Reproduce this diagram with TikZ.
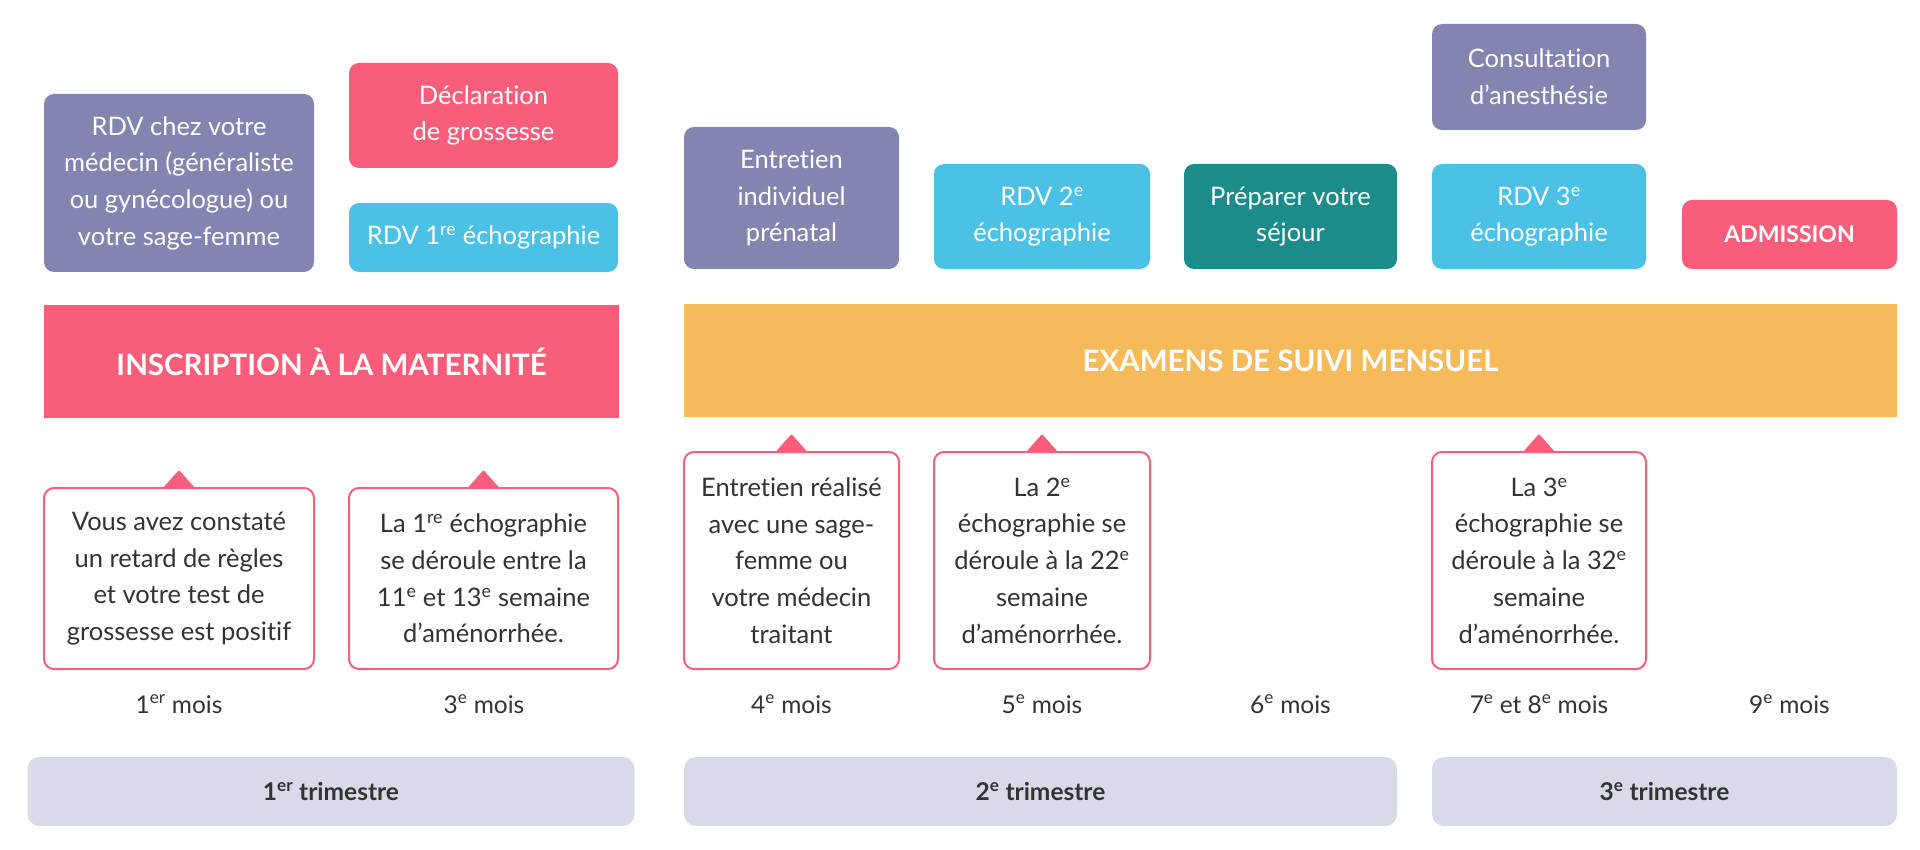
\documentclass[tikz,border=0pt]{standalone}
\usepackage{fontspec}
\setmainfont{Lato}[Ligatures=CommonOff]
\usetikzlibrary{calc}
\definecolor{purp}{HTML}{8484B0}
\definecolor{pinkc}{HTML}{F85E7A}
\definecolor{bluec}{HTML}{4CC1E6}
\definecolor{tealc}{HTML}{1B8C8A}
\definecolor{orangec}{HTML}{F6BA5A}
\definecolor{trig}{HTML}{DAD9E8}
\definecolor{darkt}{HTML}{333333}
\newcommand\bxfont{\fontsize{25.5}{36.7}\selectfont}
\newcommand\moisfnt{\fontsize{24.5}{30}\selectfont}
\newcommand\admfnt{\fontsize{23}{30}\selectfont\bfseries}
\newcommand\barfnt{\fontsize{29.5}{34}\selectfont\bfseries}
\newcommand\trifnt{\fontsize{24.5}{28}\selectfont\bfseries}
\tikzset{
  tbox/.style={rectangle, rounded corners=10pt, inner sep=0pt, align=center, text=white, font=\bxfont},
  callout/.style={rectangle, rounded corners=10pt, draw=pinkc, line width=2pt, fill=white, inner sep=0pt, align=center, text=darkt, font=\bxfont},
  bar/.style={rectangle, inner sep=0pt, text=white, font=\barfnt},
  mois/.style={inner sep=0pt, anchor=base, text=darkt, font=\moisfnt},
  tri/.style={rectangle, rounded corners=12pt, fill=trig, inner sep=0pt, text=darkt, font=\trifnt},
  pointer/.style={fill=pinkc, rounded corners=2pt}
}
\begin{document}
\begin{tikzpicture}[x=1pt,y=-1pt]
\useasboundingbox[fill=white] (0,0) rectangle (1920,850);
% top boxes
\node[tbox, fill=purp, minimum width=270pt, minimum height=178pt] (rdv) at (179,183) {RDV chez votre\\médecin (généraliste\\ou gynécologue) ou\\votre sage-femme};
\node[tbox, fill=pinkc, minimum width=269pt, minimum height=105pt] (decl) at (483.5,115.5) {Déclaration\\de grossesse};
\node[tbox, fill=bluec, minimum width=269pt, minimum height=69pt] (echoa) at (483.5,237.5) {RDV 1\textsuperscript{re} échographie};
\node[tbox, fill=purp, minimum width=215pt, minimum height=142pt] (entr) at (791.5,198) {Entretien\\individuel\\prénatal};
\node[tbox, fill=bluec, minimum width=216pt, minimum height=105pt] (echob) at (1042,216.5) {RDV 2\textsuperscript{e}\\échographie};
\node[tbox, fill=tealc, minimum width=213pt, minimum height=105pt] (prep) at (1290.5,216.5) {Préparer votre\\séjour};
\node[tbox, fill=purp, minimum width=214pt, minimum height=106pt] (cons) at (1539,77) {Consultation\\d’anesthésie};
\node[tbox, fill=bluec, minimum width=214pt, minimum height=105pt] (echoc) at (1539,216.5) {RDV 3\textsuperscript{e}\\échographie};
\node[tbox, fill=pinkc, minimum width=215pt, minimum height=69pt, font=\admfnt] (adm) at (1789.5,234.5) {ADMISSION};
% bars
\node[bar, fill=pinkc, minimum width=575pt, minimum height=113pt] (insc) at (331.5,361.5) {INSCRIPTION À LA MATERNITÉ};
\node[bar, fill=orangec, minimum width=1213pt, minimum height=113pt] (exam) at (1290.5,360.5) {EXAMENS DE SUIVI MENSUEL};
% callouts
\node[callout, minimum width=270pt, minimum height=181pt] (ca) at (179,578.5) {Vous avez constaté\\un retard de règles\\et votre test de\\grossesse est positif};
\node[callout, minimum width=269pt, minimum height=181pt] (cb) at (483.5,578.5) {La 1\textsuperscript{re} échographie\\se déroule entre la\\11\textsuperscript{e} et 13\textsuperscript{e} semaine\\d’aménorrhée.};
\node[callout, minimum width=215pt, minimum height=217pt] (cc) at (791.5,560.5) {Entretien réalisé\\avec une sage-\\femme ou\\votre médecin\\traitant};
\node[callout, minimum width=216pt, minimum height=217pt] (cd) at (1042,560.5) {La 2\textsuperscript{e}\\échographie se\\déroule à la 22\textsuperscript{e}\\semaine\\d’aménorrhée.};
\node[callout, minimum width=214pt, minimum height=217pt] (ce) at (1539,560.5) {La 3\textsuperscript{e}\\échographie se\\déroule à la 32\textsuperscript{e}\\semaine\\d’aménorrhée.};
\foreach \c in {ca,cb,cc,cd,ce}{
  \fill[pointer] ($(\c.north)+(-16,1)$) -- ($(\c.north)+(0,-17)$) -- ($(\c.north)+(16,1)$) -- cycle;
}
% months
\node[mois] (m1) at (179,713) {1\textsuperscript{er} mois};
\node[mois] (m3) at (484,713) {3\textsuperscript{e} mois};
\node[mois] (m4) at (791.5,713) {4\textsuperscript{e} mois};
\node[mois] (m5) at (1042,713) {5\textsuperscript{e} mois};
\node[mois] (m6) at (1290.5,713) {6\textsuperscript{e} mois};
\node[mois] (m7) at (1539,713) {7\textsuperscript{e} et 8\textsuperscript{e} mois};
\node[mois] (m9) at (1789.5,713) {9\textsuperscript{e} mois};
% trimesters
\node[tri, minimum width=607pt, minimum height=69pt] (t1) at (331,791.5) {1\textsuperscript{er} trimestre};
\node[tri, minimum width=713pt, minimum height=69pt] (t2) at (1040.5,791.5) {2\textsuperscript{e} trimestre};
\node[tri, minimum width=465pt, minimum height=69pt] (t3) at (1664.5,791.5) {3\textsuperscript{e} trimestre};
\end{tikzpicture}
\end{document}
